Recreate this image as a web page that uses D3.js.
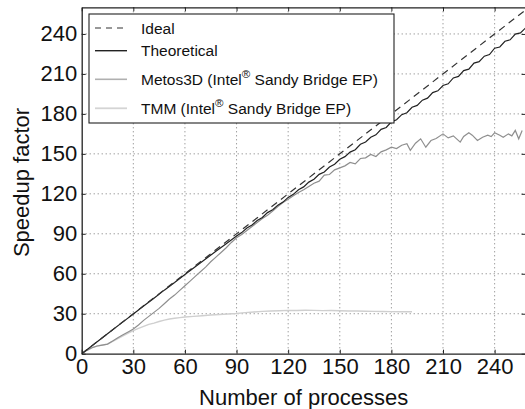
<!DOCTYPE html>
<html>
<head>
<meta charset="utf-8">
<script src="https://cdn.jsdelivr.net/npm/d3@7"></script>
<style>
  html, body { margin: 0; padding: 0; background: #fff; }
  svg { display: block; font-family: "Liberation Sans", Arial, Helvetica, sans-serif; }
</style>
</head>
<body>
<svg id="chart"></svg>
<script>
// ---- data ----
var xTicks = [0, 30, 60, 90, 120, 150, 180, 210, 240];
var yTicks = [0, 30, 60, 90, 120, 150, 180, 210, 240];

var idealProcs = [0, 258];
var idealSpeedup = [0, 258];

var theoProcs = [0, 6, 12, 18, 24, 30, 36, 42, 48, 54, 60, 66, 72, 78, 84, 90, 93, 96, 99, 102, 105, 108, 111,
  114, 117, 120, 123, 126, 129, 132, 135, 138, 141, 144, 147, 150, 153, 156, 159, 162, 165, 168, 171, 174,
  177, 180, 183, 186, 189, 192, 195, 198, 201, 204, 207, 210, 213, 216, 219, 222, 225, 228, 231, 234, 237,
  240, 243, 246, 249, 252, 255, 258];
var theoSpeedup = [0, 6.0, 12.0, 17.9, 23.9, 29.8, 35.8, 41.6, 47.7, 53.4, 59.4, 65.3, 71.0, 76.9, 82.6, 88.4,
  90.9, 94.3, 96.6, 99.9, 102.3, 105.9, 108.1, 111.5, 113.8, 117.3, 119.6, 123.1, 125.2, 128.8, 130.9, 134.6,
  136.4, 140.1, 142.2, 145.9, 147.9, 151.3, 153.1, 157.2, 158.9, 162.5, 164.3, 168.4, 169.8, 174.0, 175.6,
  179.4, 180.9, 185.0, 186.4, 190.3, 191.8, 196.0, 197.3, 201.3, 202.6, 207.0, 208.1, 212.5, 213.6, 218.1,
  219.2, 223.3, 224.5, 229.3, 230.2, 234.5, 235.6, 239.9, 240.8, 244.5];

var metosProcs = [0, 3, 6, 9, 12, 15, 18, 21, 24, 27, 30, 33, 36, 39, 42, 45, 48, 51, 54, 57, 60, 63, 66, 69,
  72, 75, 78, 81, 84, 87, 90, 93, 96, 99, 102, 105, 108, 111, 114, 117, 120, 123, 126, 129, 132, 135, 138,
  141, 144, 147, 150, 153, 156, 159, 162, 165, 168, 171, 174, 177, 180, 183, 186, 189, 191, 194, 197, 200,
  203, 206, 210, 213, 216, 220, 222, 225, 227, 230, 233, 236, 238, 240, 243, 245, 248, 250, 252, 254, 256];
var metosSpeedup = [0, 2.5, 4.5, 5.8, 6.5, 7.2, 9.5, 12, 14.2, 16.3, 18.5, 21.5, 25, 28, 31, 34, 37.5, 41, 44,
  47.5, 51, 54.5, 58, 61.5, 65, 69, 72.5, 76, 79.5, 83.5, 87, 89.5, 92.5, 95.5, 98.5, 101.5, 104, 107, 110.5,
  113.5, 116, 118.5, 121, 123, 125.5, 128, 129.5, 134, 134.5, 138, 139.5, 141, 143.5, 142.5, 146.5, 147,
  149.5, 148, 151.5, 153, 155, 154, 156.5, 157.6, 152.6, 158, 161.3, 155, 160, 161.5, 165, 162, 163.5, 158.8,
  163, 165.8, 164, 160, 162.5, 164, 163, 165.8, 164, 162.5, 165, 163.5, 167.6, 161.3, 167.6];

var tmmProcs = [0, 3, 6, 9, 12, 15, 18, 21, 24, 27, 30, 33, 36, 39, 42, 45, 48, 51, 54, 57, 60, 65, 70, 75,
  80, 85, 90, 95, 100, 105, 110, 115, 120, 125, 130, 135, 140, 145, 150, 155, 160, 165, 170, 175, 180, 185, 192];
var tmmSpeedup = [0, 2.5, 4.5, 5.8, 6.5, 7.2, 9.3, 11.4, 13.4, 15.4, 17.4, 19, 20.5, 22, 23, 24.2, 25.2, 26,
  26.6, 27.1, 27.5, 28, 28.5, 29, 29.4, 29.8, 30.2, 30.8, 31.3, 31.8, 32, 32.2, 32.5, 32.4, 32.6, 32.5, 32.3,
  32.4, 32.2, 32, 32.1, 31.9, 31.8, 31.7, 31.6, 31.5, 31.5];

var seriesNames = ["Ideal", "Theoretical", "Metos3D (Intel", "TMM (Intel"];

// ---- layout ----
var W = 525, H = 409;
var plot = { left: 81.7, right: 525.6, top: 7.3, bottom: 353.7 };

var svg = d3.select("#chart").attr("width", W).attr("height", H);

var x = d3.scaleLinear().domain([0, 258]).range([plot.left, plot.right]);
var y = d3.scaleLinear().domain([0, 260]).range([plot.bottom, plot.top]);

svg.append("defs").append("clipPath").attr("id", "clip")
  .append("rect")
  .attr("x", plot.left).attr("y", plot.top)
  .attr("width", plot.right - plot.left).attr("height", plot.bottom - plot.top);

// grid
var grid = svg.append("g").attr("class", "grid");
grid.selectAll(".gx").data(xTicks.filter(function (d) { return d > 0; })).enter().append("line")
  .attr("x1", function (d) { return x(d); }).attr("x2", function (d) { return x(d); })
  .attr("y1", plot.top).attr("y2", plot.bottom)
  .attr("stroke", "#777").attr("stroke-width", 1).attr("stroke-dasharray", "1,3");
grid.selectAll(".gy").data(yTicks.filter(function (d) { return d > 0; })).enter().append("line")
  .attr("y1", function (d) { return y(d); }).attr("y2", function (d) { return y(d); })
  .attr("x1", plot.left).attr("x2", plot.right)
  .attr("stroke", "#777").attr("stroke-width", 1).attr("stroke-dasharray", "1,3");

// lines
var line = d3.line()
  .x(function (d) { return x(d[0]); })
  .y(function (d) { return y(d[1]); });
var zip = function (a, b) { return a.map(function (v, i) { return [v, b[i]]; }); };

var lines = svg.append("g").attr("clip-path", "url(#clip)");
lines.append("path").datum(zip(tmmProcs, tmmSpeedup))
  .attr("fill", "none").attr("stroke", "#cfcfcf").attr("stroke-width", 1.4).attr("d", line);
lines.append("path").datum(zip(metosProcs, metosSpeedup))
  .attr("fill", "none").attr("stroke", "#8f8f8f").attr("stroke-width", 1.2).attr("d", line);
lines.append("path").datum(zip(theoProcs, theoSpeedup))
  .attr("fill", "none").attr("stroke", "#222").attr("stroke-width", 1.2).attr("d", line);
lines.append("path").datum(zip(idealProcs, idealSpeedup))
  .attr("fill", "none").attr("stroke", "#333").attr("stroke-width", 1.2)
  .attr("stroke-dasharray", "7,5").attr("d", line);

// axes (ticks inward)
var tickLen = 4;
svg.append("g").attr("transform", "translate(0," + plot.bottom + ")")
  .call(d3.axisBottom(x).tickValues(xTicks).tickSizeInner(-tickLen).tickSizeOuter(0))
  .call(function (g) {
    g.select(".domain").attr("stroke", "#222").attr("stroke-width", 1.3);
    g.selectAll(".tick line").attr("stroke", "#222");
    g.selectAll("text").attr("font-size", 22).attr("fill", "#111")
      .attr("font-family", "'Liberation Sans', Arial, sans-serif").attr("y", 4.5).attr("dy", "0.71em");
  });
svg.append("g").attr("transform", "translate(" + plot.left + ",0)")
  .call(d3.axisLeft(y).tickValues(yTicks).tickSizeInner(-tickLen).tickSizeOuter(0))
  .call(function (g) {
    g.select(".domain").attr("stroke", "#222").attr("stroke-width", 1.3);
    g.selectAll(".tick line").attr("stroke", "#222");
    g.selectAll("text").attr("font-size", 22).attr("fill", "#111")
      .attr("font-family", "'Liberation Sans', Arial, sans-serif").attr("x", -4.5);
  });
svg.append("g").attr("transform", "translate(0," + plot.top + ")")
  .call(d3.axisTop(x).tickValues(xTicks).tickSizeInner(-tickLen).tickSizeOuter(0).tickFormat(""))
  .call(function (g) {
    g.select(".domain").attr("stroke", "#222").attr("stroke-width", 1.3);
    g.selectAll(".tick line").attr("stroke", "#222");
  });
svg.append("g").attr("transform", "translate(" + plot.right + ",0)")
  .call(d3.axisRight(y).tickValues(yTicks).tickSizeInner(-tickLen).tickSizeOuter(0).tickFormat(""))
  .call(function (g) {
    g.select(".domain").attr("stroke", "#222").attr("stroke-width", 1.3);
    g.selectAll(".tick line").attr("stroke", "#222");
  });

// axis titles
svg.append("text")
  .attr("x", (plot.left + plot.right) / 2).attr("y", 405)
  .attr("text-anchor", "middle").attr("font-size", 22).attr("fill", "#111")
  .text("Number of processes");
svg.append("text")
  .attr("transform", "translate(28.5," + ((plot.top + plot.bottom) / 2 + 2) + ") rotate(-90)")
  .attr("text-anchor", "middle").attr("font-size", 22).attr("fill", "#111")
  .text("Speedup factor");

// legend
var legend = svg.append("g");
legend.append("rect")
  .attr("x", 89).attr("y", 14).attr("width", 305).attr("height", 109)
  .attr("fill", "#fff").attr("stroke", "#222").attr("stroke-width", 1.1);
var legendRows = [
  { name: seriesNames[0], sup: false, y: 28, stroke: "#333", dash: "6,5", width: 1.2 },
  { name: seriesNames[1], sup: false, y: 50.7, stroke: "#222", dash: null, width: 1.4 },
  { name: seriesNames[2], sup: true, y: 79.3, stroke: "#b0b0b0", dash: null, width: 1.6 },
  { name: seriesNames[3], sup: true, y: 108.3, stroke: "#d4d4d4", dash: null, width: 1.8 }
];
legendRows.forEach(function (r) {
  legend.append("line")
    .attr("x1", 95).attr("x2", 127).attr("y1", r.y).attr("y2", r.y)
    .attr("stroke", r.stroke).attr("stroke-width", r.width)
    .attr("stroke-dasharray", r.dash);
  var t = legend.append("text").attr("x", 141).attr("y", r.y + 5.5)
    .attr("font-size", 15.5).attr("fill", "#111");
  t.append("tspan").text(r.name);
  if (r.sup) {
    t.append("tspan").attr("font-size", 11.5).attr("dy", -6.5).text("\u00AE");
    t.append("tspan").attr("dy", 6.5).text(" Sandy Bridge EP)");
  }
});
</script>
</body>
</html>
